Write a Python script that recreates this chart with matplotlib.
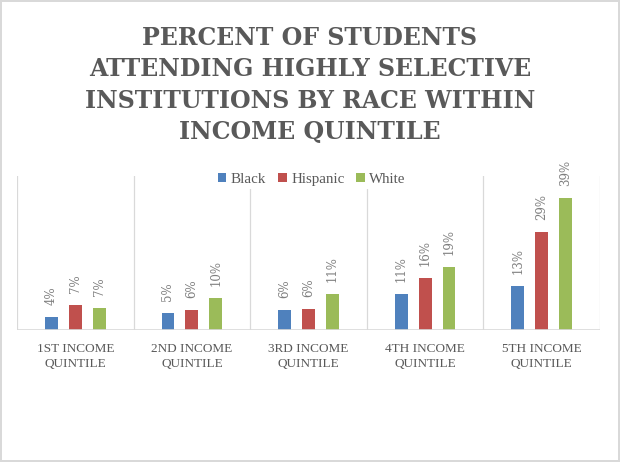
import matplotlib
matplotlib.use("Agg")
import matplotlib.pyplot as plt
import numpy as np

# data
quintiles = ["1ST INCOME\nQUINTILE", "2ND INCOME\nQUINTILE", "3RD INCOME\nQUINTILE",
             "4TH INCOME\nQUINTILE", "5TH INCOME\nQUINTILE"]
black = [3.9, 5.1, 5.9, 10.6, 13.0]
hispanic = [7.4, 5.9, 6.2, 15.5, 29.0]
white = [6.6, 9.5, 10.6, 18.7, 39.0]
series_names = ["Black", "Hispanic", "White"]
colors = ["#4F81BD", "#C0504D", "#9BBB59"]

title = "PERCENT OF STUDENTS\nATTENDING HIGHLY SELECTIVE\nINSTITUTIONS BY RACE WITHIN\nINCOME QUINTILE"

fig = plt.figure(figsize=(6.2, 4.62), dpi=100)
fig.patch.set_edgecolor("#d9d9d9")
fig.patch.set_linewidth(1.5)

ax = fig.add_axes([17 / 620, 1 - 330 / 462, 583 / 620, 154 / 462])

x = np.arange(len(quintiles))
width = 0.11
offset = 0.205
for i, (vals, name, c) in enumerate(zip([black, hispanic, white], series_names, colors)):
    pos = x + (i - 1) * offset
    ax.bar(pos, vals, width, color=c, label=name, zorder=3)
    for px, v in zip(pos, vals):
        ax.annotate(f"{v:.0f}%", (px, v), xytext=(0, 8.5), textcoords="offset points",
                    rotation=90, ha="center", va="bottom", fontsize=8.5,
                    family="DejaVu Serif", color="#7f7f7f")

ax.set_xlim(-0.5, len(quintiles) - 0.5)
ax.set_ylim(0, 45.5)
for b in np.arange(-0.5, len(quintiles), 1):
    ax.axvline(b, color="#d9d9d9", lw=0.9, zorder=1)
ax.axhline(0, color="#d9d9d9", lw=1.2, zorder=4)

ax.set_xticks(x)
ax.set_xticklabels(quintiles, family="Liberation Serif", fontsize=9.5, color="#595959",
                   linespacing=1.35)
ax.tick_params(axis="x", length=0, pad=9)
ax.set_yticks([])
for s in ax.spines.values():
    s.set_visible(False)

leg = ax.legend(loc="upper center", bbox_to_anchor=(0.506, 1.09), ncol=3, frameon=True,
                prop={"family": "Liberation Serif", "size": 10.8}, handlelength=0.55,
                handleheight=0.55, handletextpad=0.3, columnspacing=0.8, borderpad=0.2)
leg.get_frame().set_edgecolor("none")
leg.get_frame().set_facecolor("white")
leg.get_frame().set_alpha(1)
leg.set_zorder(5)
for t in leg.get_texts():
    t.set_color("#595959")

fig.text(0.5, 1 - 85 / 462, title, ha="center", va="center", family="DejaVu Serif",
         fontweight="bold", fontsize=17, color="#595959", linespacing=1.38)

fig.savefig("out.png", dpi=100, edgecolor=fig.get_edgecolor())
